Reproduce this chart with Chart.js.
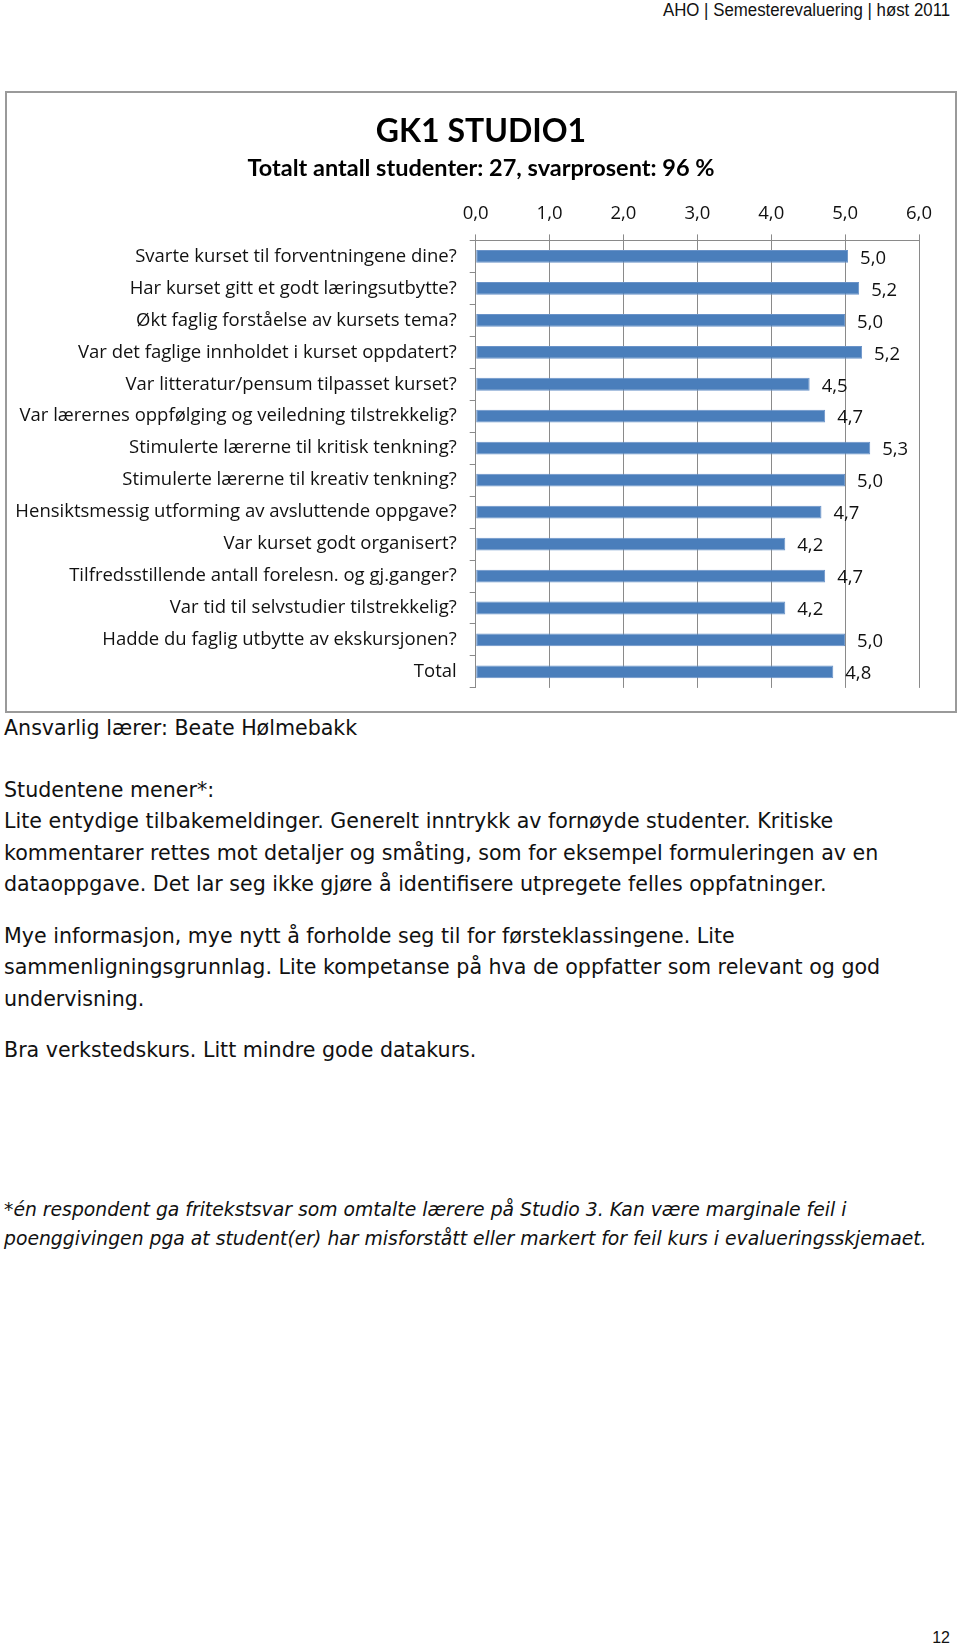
<!DOCTYPE html>
<html>
<head>
<meta charset="utf-8">
<script src="https://cdn.jsdelivr.net/npm/chart.js@4"></script>
<style>
  html, body { margin: 0; padding: 0; background: #fff; }
  body { width: 960px; height: 1648px; position: relative; overflow: hidden; color: #111; }
  .hdr { position: absolute; right: 10px; top: 0px; font: 18px "Liberation Sans", Arial, sans-serif; white-space: nowrap; transform: scaleX(0.935); transform-origin: right top; }
  .box { position: absolute; left: 5px; top: 91px; width: 952px; height: 622px; box-sizing: border-box; border: 2px solid #9a9a9a; }
  #chart { position: absolute; left: 6px; top: 92px; }
  .txt { position: absolute; left: 4px; font: 20.6px "DejaVu Sans", sans-serif; line-height: 31.3px; white-space: nowrap; }
  .note { font-size: 18.8px; font-style: italic; line-height: 29px; }
  .pg { position: absolute; right: 10px; top: 1629px; font: 16px "Liberation Sans", Arial, sans-serif; }
</style>
</head>
<body>
<div class="hdr">AHO | Semesterevaluering | høst 2011</div>
<div class="box"></div>
<canvas id="chart" width="950" height="620"></canvas>

<div class="txt" style="top:713px">Ansvarlig lærer: Beate Hølmebakk</div>
<div class="txt" style="top:775px">Studentene mener*:<br>
Lite entydige tilbakemeldinger. Generelt inntrykk av fornøyde studenter. Kritiske<br>
kommentarer rettes mot detaljer og småting, som for eksempel formuleringen av en<br>
dataoppgave. Det lar seg ikke gjøre å identifisere utpregete felles oppfatninger.</div>
<div class="txt" style="top:921px">Mye informasjon, mye nytt å forholde seg til for førsteklassingene. Lite<br>
sammenligningsgrunnlag. Lite kompetanse på hva de oppfatter som relevant og god<br>
undervisning.</div>
<div class="txt" style="top:1035px">Bra verkstedskurs. Litt mindre gode datakurs.</div>
<div class="txt note" style="top:1195px">*én respondent ga fritekstsvar som omtalte lærere på Studio 3. Kan være marginale feil i<br>
poenggivingen pga at student(er) har misforstått eller markert for feil kurs i evalueringsskjemaet.</div>
<div class="pg">12</div>

<script>
// Questions (top to bottom)
const questions = [
  "Svarte kurset til forventningene dine?",
  "Har kurset gitt et godt læringsutbytte?",
  "Økt faglig forståelse av kursets tema?",
  "Var det faglige innholdet i kurset oppdatert?",
  "Var litteratur/pensum tilpasset kurset?",
  "Var lærernes oppfølging og veiledning tilstrekkelig?",
  "Stimulerte lærerne til kritisk tenkning?",
  "Stimulerte lærerne til kreativ tenkning?",
  "Hensiktsmessig utforming av avsluttende oppgave?",
  "Var kurset godt organisert?",
  "Tilfredsstillende antall forelesn. og gj.ganger?",
  "Var tid til selvstudier tilstrekkelig?",
  "Hadde du faglig utbytte av ekskursjonen?",
  "Total"
];

// Average score per question
const scores = [5.04, 5.19, 5.0, 5.23, 4.52, 4.73, 5.34, 5.0, 4.68, 4.19, 4.73, 4.19, 5.0, 4.84];

// Axis
const axisMin = 0;
const axisMax = 6;
const axisStep = 1;

const chartTitle = "GK1 STUDIO1";
const chartSubtitle = "Totalt antall studenter: 27, svarprosent: 96 %";

const FONT = "Open Sans";
const TITLE_FONT = "Lato";
const gridColor = "#8a8a8a";
const comma = v => Number(v).toFixed(1).replace(".", ",");

// Draw the value next to each bar
const valueLabels = {
  id: "valueLabels",
  afterDatasetsDraw(chart) {
    const ctx = chart.ctx;
    const meta = chart.getDatasetMeta(0);
    ctx.save();
    ctx.font = "18.5px '" + FONT + "'";
    ctx.fillStyle = "#111";
    ctx.textAlign = "left";
    ctx.textBaseline = "middle";
    meta.data.forEach((bar, i) => {
      ctx.fillText(comma(scores[i]), bar.x + 12, bar.y + 2);
    });
    ctx.restore();
  }
};

new Chart(document.getElementById("chart"), {
  type: "bar",
  data: {
    labels: questions,
    datasets: [{
      data: scores,
      backgroundColor: "#4a7ebb",
      borderColor: "#6a93c8",
      borderWidth: 1,
      borderSkipped: false,
      categoryPercentage: 1,
      barPercentage: 0.4
    }]
  },
  options: {
    indexAxis: "y",
    responsive: false,
    animation: false,
    layout: { padding: { left: 0, right: 0, top: 0, bottom: 23.7 } },
    plugins: {
      legend: { display: false },
      tooltip: { enabled: false },
      title: {
        display: true,
        text: chartTitle,
        color: "#000",
        font: { family: TITLE_FONT, size: 32, weight: "bold" },
        padding: { top: 20, bottom: 0 }
      },
      subtitle: {
        display: true,
        text: chartSubtitle,
        color: "#000",
        font: { family: TITLE_FONT, size: 23.5, weight: "bold" },
        padding: { top: 4, bottom: 0 }
      }
    },
    scales: {
      x: {
        position: "top",
        min: axisMin,
        max: axisMax,
        ticks: { stepSize: axisStep, callback: v => comma(v), color: "#111", font: { family: FONT, size: 18.5 }, padding: 10 },
        grid: { color: gridColor, tickLength: 6 },
        border: { color: gridColor },
        afterFit(scale) { scale.height = 57.8; }
      },
      y: {
        ticks: { color: "#111", font: { family: FONT, size: 18.5 }, padding: 13, autoSkip: false },
        grid: { offset: true, drawOnChartArea: false, color: gridColor, tickLength: 6 },
        border: { color: gridColor },
        afterFit(scale) { scale.width = 469.7; }
      },
      // empty strip on the right so the plot ends before the frame
      yRight: {
        type: "category",
        position: "right",
        ticks: { display: false },
        grid: { display: false },
        border: { display: false },
        afterFit(scale) { scale.width = 37; }
      }
    }
  },
  plugins: [valueLabels]
});
</script>
</body>
</html>
